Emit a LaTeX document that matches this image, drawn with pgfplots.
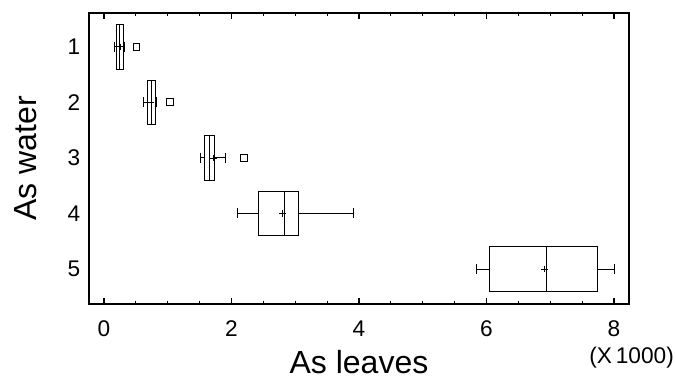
\documentclass[border=0pt]{standalone}
\usepackage{fontspec}
\setmainfont{Liberation Sans}
\usepackage{pgfplots}
\pgfplotsset{compat=1.18}
\usepgfplotslibrary{statistics}
\begin{document}
\begin{tikzpicture}[x=0.75pt,y=0.75pt]
\useasboundingbox (-89,-77) rectangle (587,304);
\begin{axis}[
  at={(0,0)}, anchor=south west,
  scale only axis, width=405pt, height=218.25pt,
  xmin=-0.235, xmax=8.235, ymin=0.39, ymax=5.63, y dir=reverse,
  xtick={0,2,4,6,8}, minor x tick num=3, ytick={1,2,3,4,5},
  tick align=inside, xtick pos=both,
  major tick length=4.5pt, minor tick length=2.25pt,
  y tick style={draw=none},
  axis line style={line width=0.8pt},
  x tick style={line width=0.8pt, black},
  /pgf/number format/assume math mode=true,
  ticklabel style={font=\fontsize{17}{17}\selectfont},
  yticklabel style={xshift=-3pt},
  xticklabel style={yshift=-9pt},
  xlabel={As leaves}, ylabel={As water},
  label style={font=\fontsize{24}{24}\selectfont},
  xlabel style={inner sep=0pt, text depth=0pt, yshift=-6.5pt},
  ylabel style={yshift=16pt},
  clip=false,
  boxplot/box extend=0.8,
  boxplot/whisker extend=0.18,
]
\addplot[black, line width=0.75pt, boxplot prepared={draw position=1,
  lower whisker=0.16, lower quartile=0.19, median=0.24, upper quartile=0.30, upper whisker=0.32}] coordinates {};
\addplot[black, line width=0.75pt, boxplot prepared={draw position=2,
  lower whisker=0.62, lower quartile=0.685, median=0.74, upper quartile=0.805, upper whisker=0.83}] coordinates {};
\addplot[black, line width=0.75pt, boxplot prepared={draw position=3,
  lower whisker=1.52, lower quartile=1.58, median=1.66, upper quartile=1.74, upper whisker=1.91}] coordinates {};
\addplot[black, line width=0.75pt, boxplot prepared={draw position=4,
  lower whisker=2.10, lower quartile=2.42, median=2.83, upper quartile=3.05, upper whisker=3.92}] coordinates {};
\addplot[black, line width=0.75pt, boxplot prepared={draw position=5,
  lower whisker=5.84, lower quartile=6.05, median=6.94, upper quartile=7.74, upper whisker=8.00}] coordinates {};
% means
\addplot[only marks, mark=+, mark size=2.5pt, black, line width=0.6pt] coordinates {
  (0.25,1) (0.74,2) (1.72,3) (2.80,4) (6.91,5)};
% outliers
\addplot[only marks, mark=square, mark size=2.6pt, black, line width=0.75pt] coordinates {
  (0.51,1) (1.035,2) (2.20,3)};
\node[font=\fontsize{17}{17}\selectfont] at ([xshift=2pt,yshift=-40pt]rel axis cs:1,0) {(X\,1000)};
\end{axis}
\end{tikzpicture}
\end{document}
